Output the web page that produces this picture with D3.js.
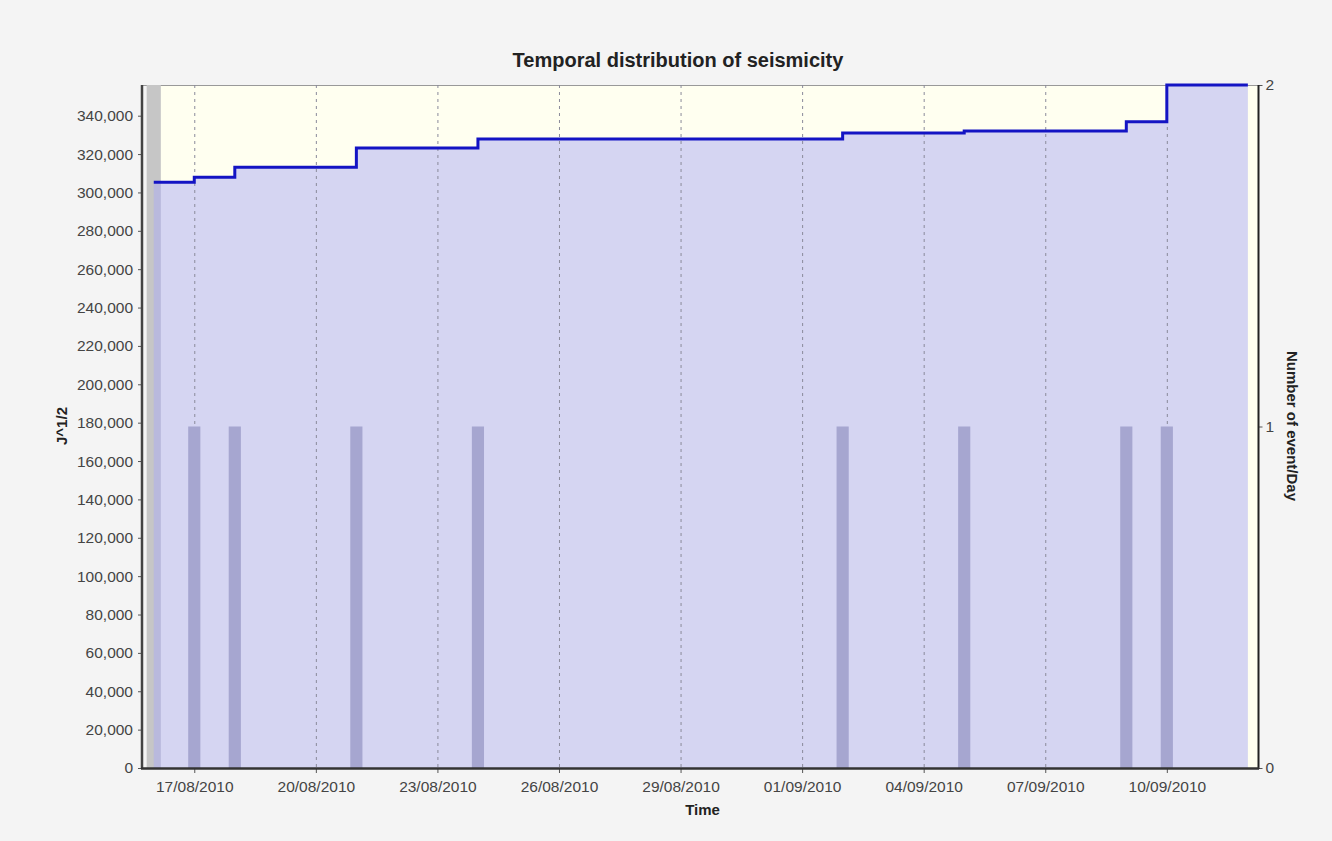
<!DOCTYPE html>
<html>
<head>
<meta charset="utf-8">
<script src="https://cdn.jsdelivr.net/npm/d3@7"></script>
<style>
  html, body { margin: 0; padding: 0; background: #f4f4f4; }
  svg { display: block; font-family: "Liberation Sans", Arial, sans-serif; }
</style>
</head>
<body>
<svg id="chart" width="1332" height="841"></svg>
<script>
// ---- data ----
const stepDates = ["2010-08-16","2010-08-17","2010-08-18","2010-08-21","2010-08-24","2010-09-02","2010-09-05","2010-09-09","2010-09-10","2010-09-12"];
const cumulativeJ = [305300, 307900, 313100, 323200, 327800, 331000, 332000, 336800, 356000, 356000];
const eventDates = ["2010-08-16","2010-08-17","2010-08-18","2010-08-21","2010-08-24","2010-09-02","2010-09-05","2010-09-09","2010-09-10"];
const eventCounts = [2, 1, 1, 1, 1, 1, 1, 1, 1];
const xTickDates = ["2010-08-17","2010-08-20","2010-08-23","2010-08-26","2010-08-29","2010-09-01","2010-09-04","2010-09-07","2010-09-10"];
const xTickLabels = ["17/08/2010","20/08/2010","23/08/2010","26/08/2010","29/08/2010","01/09/2010","04/09/2010","07/09/2010","10/09/2010"];
const leftTicks = [0,20000,40000,60000,80000,100000,120000,140000,160000,180000,200000,220000,240000,260000,280000,300000,320000,340000];
const rightTicks = [0, 1, 2];

const parse = d3.timeParse("%Y-%m-%d");
const svg = d3.select("#chart");

const L = 147, R = 1258, T = 85, B = 768;
const x = d3.scaleTime()
  .domain([new Date(2010, 7, 15, 20), new Date(2010, 8, 12, 6)])
  .range([L, R]);
const yL = d3.scaleLinear().domain([0, 356000]).range([B, T]);
const yR = d3.scaleLinear().domain([0, 2]).range([B, T]);

// title
svg.append("text").attr("x", 678).attr("y", 67).attr("text-anchor", "middle")
  .attr("font-size", 20).attr("font-weight", "bold").attr("fill", "#222")
  .text("Temporal distribution of seismicity");

// plot background
svg.append("rect").attr("x", L).attr("y", T).attr("width", R - L).attr("height", B - T)
  .attr("fill", "#fffff0");
// plot border (top)
svg.append("line").attr("x1", L - 4).attr("x2", R).attr("y1", T + 0.5).attr("y2", T + 0.5)
  .attr("stroke", "#999").attr("stroke-width", 1);

const steps = stepDates.map((d, i) => ({ date: parse(d), v: cumulativeJ[i] }));
const events = eventDates.map((d, i) => ({ date: parse(d), n: eventCounts[i] }));
const halfW = 0.15 * 24 * 3600 * 1000;

// background bars (multi-event days) drawn behind the area
svg.append("g").selectAll("rect").data(events.filter(e => e.n > 1)).join("rect")
  .attr("x", d => x(new Date(+d.date - halfW)) - 1)
  .attr("width", d => x(new Date(+d.date + halfW)) - x(new Date(+d.date - halfW)) + 2)
  .attr("y", d => yR(d.n)).attr("height", d => B - yR(d.n))
  .attr("fill", "#c6c6c6");

// area under cumulative curve
const area = d3.area().curve(d3.curveStepAfter)
  .x(d => x(d.date)).y0(B).y1(d => yL(d.v));
svg.append("path").datum(steps).attr("d", area)
  .attr("fill", "rgb(172,172,244)").attr("fill-opacity", 0.5);

// vertical dashed gridlines
svg.append("g").selectAll("line").data(xTickDates).join("line")
  .attr("x1", d => x(parse(d)) + 0.5).attr("x2", d => x(parse(d)) + 0.5)
  .attr("y1", T).attr("y2", B)
  .attr("stroke", "#8a8a9a").attr("stroke-width", 1).attr("stroke-dasharray", "3,4");

// single-event bars
svg.append("g").selectAll("rect").data(events.filter(e => e.n <= 1)).join("rect")
  .attr("x", d => x(new Date(+d.date - halfW)))
  .attr("width", d => x(new Date(+d.date + halfW)) - x(new Date(+d.date - halfW)))
  .attr("y", d => yR(d.n)).attr("height", d => B - yR(d.n))
  .attr("fill", "#a6a6d0");

// step line
const line = d3.line().curve(d3.curveStepAfter).x(d => x(d.date)).y(d => yL(d.v));
svg.append("path").datum(steps).attr("d", line)
  .attr("fill", "none").attr("stroke", "#1414c4").attr("stroke-width", 3);

// axes
const tickColor = "#555", labelColor = "#444", fs = 15.5;
function styleAxis(g) {
  g.select(".domain").remove();
  g.selectAll(".tick line").attr("stroke", tickColor);
  g.selectAll(".tick text").attr("fill", labelColor).attr("font-size", fs)
    .attr("font-family", "'Liberation Sans', Arial, sans-serif");
}

const gL = svg.append("g").attr("transform", `translate(${L - 5},0)`)
  .call(d3.axisLeft(yL).tickValues(leftTicks).tickFormat(d3.format(",")).tickSize(4).tickPadding(5));
styleAxis(gL);
svg.append("line").attr("x1", L - 5).attr("x2", L - 5).attr("y1", T).attr("y2", B + 1)
  .attr("stroke", "#444").attr("stroke-width", 2.5);

const gR = svg.append("g").attr("transform", `translate(${R + 0.5},0)`)
  .call(d3.axisRight(yR).tickValues(rightTicks).tickFormat(d3.format("d")).tickSize(4).tickPadding(3));
styleAxis(gR);
svg.append("line").attr("x1", R + 0.5).attr("x2", R + 0.5).attr("y1", T).attr("y2", B + 1)
  .attr("stroke", "#222").attr("stroke-width", 2);

const gB = svg.append("g").attr("transform", `translate(0,${B + 1})`)
  .call(d3.axisBottom(x).tickValues(xTickDates.map(parse))
    .tickFormat((d, i) => xTickLabels[i]).tickSize(4).tickPadding(8));
styleAxis(gB);
svg.append("line").attr("x1", L - 6).attr("x2", R + 1).attr("y1", B + 0.5).attr("y2", B + 0.5)
  .attr("stroke", "#333").attr("stroke-width", 2.5);

// axis titles
svg.append("text").attr("x", (L + R) / 2).attr("y", 815).attr("text-anchor", "middle")
  .attr("font-size", 15).attr("font-weight", "bold").attr("fill", "#222").text("Time");
svg.append("text").attr("transform", "translate(67,426) rotate(-90)").attr("text-anchor", "middle")
  .attr("font-size", 15).attr("font-weight", "bold").attr("fill", "#222").text("J^1/2");
svg.append("text").attr("transform", "translate(1287,426) rotate(90)").attr("text-anchor", "middle")
  .attr("font-size", 15).attr("font-weight", "bold").attr("fill", "#222").text("Number of event/Day");
</script>
</body>
</html>
